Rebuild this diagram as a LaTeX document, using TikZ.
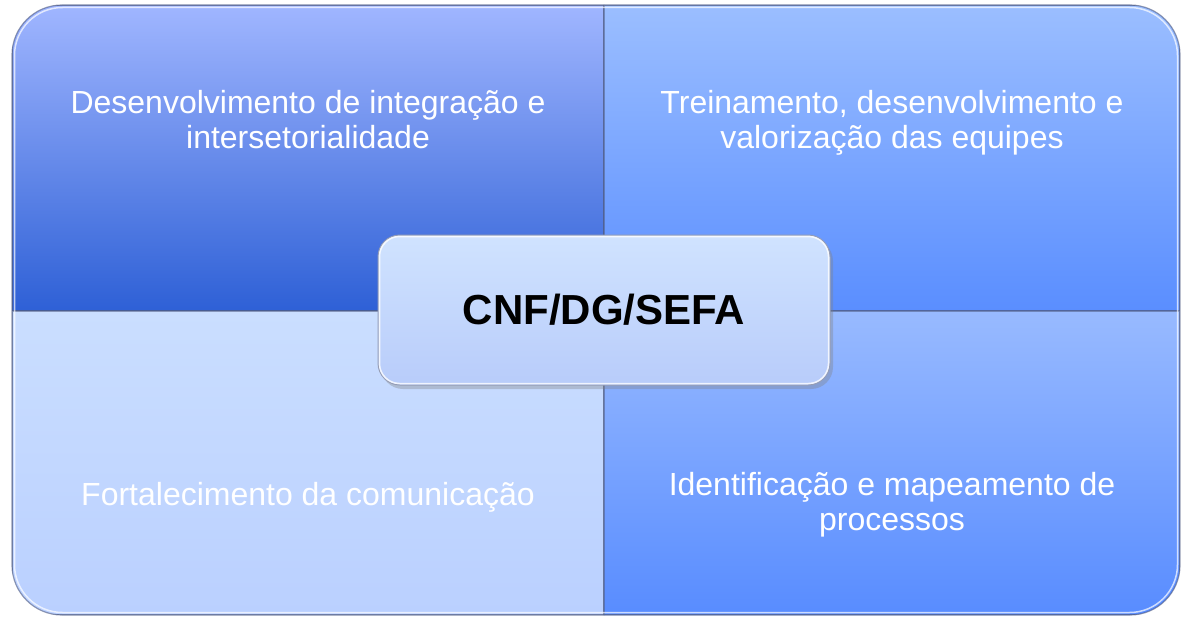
\documentclass[tikz,border=0pt]{standalone}
\usepackage{xcolor}
\usepackage{fontspec}
\setmainfont{Liberation Sans}
\usepackage{tikz}
\usetikzlibrary{positioning,calc,shadows}
\definecolor{tlTop}{RGB}{160,182,255}
\definecolor{tlMid}{RGB}{118,145,240}
\definecolor{tlBot}{RGB}{46,96,214}
\definecolor{trTop}{RGB}{155,190,255}
\definecolor{trBot}{RGB}{90,142,255}
\definecolor{blTop}{RGB}{202,222,255}
\definecolor{blBot}{RGB}{186,208,255}
\definecolor{brTop}{RGB}{152,186,255}
\definecolor{brBot}{RGB}{88,140,255}
\definecolor{hubTop}{RGB}{208,227,255}
\definecolor{hubBot}{RGB}{184,204,250}
\definecolor{edgeGray}{RGB}{80,92,130}

\begin{document}
\begin{tikzpicture}[x=1pt,y=-1pt,
    quadrant/.style={draw=edgeGray, draw opacity=0.55, line width=1.2pt},
    quadtext/.style={text=white, align=center, inner sep=0pt,
        font=\fontsize{32}{35}\selectfont},
    hub/.style={draw=edgeGray!60, line width=1pt, rounded corners=22pt,
        top color=hubTop, bottom color=hubBot,
        drop shadow={opacity=0.35, shadow xshift=3pt, shadow yshift=-4pt},
        minimum width=452pt, minimum height=150pt,
        font=\fontsize{42}{46}\selectfont\bfseries}]
\useasboundingbox (0,0) rectangle (1182,618);

% four quadrants, clipped to the rounded outline
\begin{scope}
\clip[rounded corners=50pt] (12,5) rectangle (1180,615);
\path[quadrant, top color=tlTop, middle color=tlMid, bottom color=tlBot] (12,5) rectangle (604,311);
\path[quadrant, top color=trTop, bottom color=trBot] (604,5) rectangle (1180,311);
\path[quadrant, top color=blTop, bottom color=blBot] (12,311) rectangle (604,615);
\path[quadrant, top color=brTop, bottom color=brBot] (604,311) rectangle (1180,615);
\end{scope}
\draw[edgeGray, opacity=0.6, line width=1.2pt, rounded corners=50pt] (12,5) rectangle (1180,615);
\draw[white, opacity=0.7, line width=1.5pt, rounded corners=48pt] (14.5,7.5) rectangle (1177.5,612.5);

% labels
\node[quadtext, anchor=north] (integracao) at (308,90) {Desenvolvimento de integração e\\intersetorialidade};
\node[quadtext, anchor=north] (treinamento) at (892,90) {Treinamento, desenvolvimento e\\valorização das equipes};
\node[quadtext] (comunicacao) at (308,497) {Fortalecimento da comunicação};
\node[quadtext] (processos) at (892,505) {Identificação e mapeamento de\\processos};

% centre
\node[hub] (sefa) at (604,310) {CNF/DG/SEFA};
\draw[white, opacity=0.8, line width=1.5pt, rounded corners=20pt]
    ($(sefa.north west)+(2,2)$) rectangle ($(sefa.south east)+(-2,-2)$);
\end{tikzpicture}
\end{document}
